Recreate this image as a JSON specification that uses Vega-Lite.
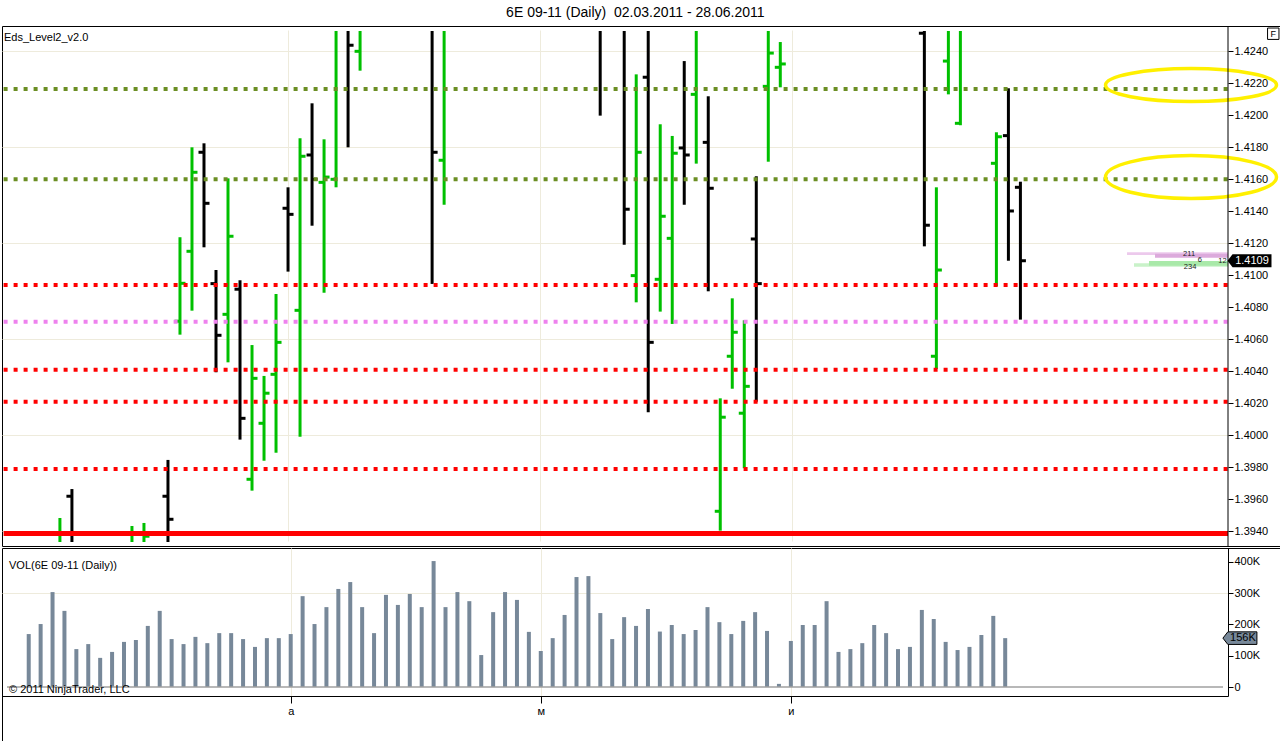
{
  "$schema": "https://vega.github.io/schema/vega-lite/v6.json",
  "background": "white",
  "padding": {"left": 0, "top": 6, "right": 0, "bottom": 0},
  "title": {"text": "6E 09-11 (Daily)\u00a0 02.03.2011 - 28.06.2011", "font": "Liberation Sans", "fontSize": 14, "fontWeight": "normal", "color": "black", "anchor": "middle", "offset": 5, "dx": -7},
  "spacing": 0,
  "config": {
    "font": "Liberation Sans",
    "view": {"stroke": "black", "strokeWidth": 1},
    "axis": {"labelFont": "Liberation Sans", "labelFontSize": 11, "labelColor": "black", "tickColor": "black", "domainColor": "black"}
  },
  "datasets": {
    "ohlc": [
      {"i": 0, "volume": 169000},
      {"i": 1, "volume": 201000},
      {"i": 2, "volume": 303000},
      {"i": 3, "volume": 243000, "open": 1.3912, "high": 1.39483, "low": 1.3905, "close": 1.3928},
      {"i": 4, "volume": 121000, "open": 1.39619, "high": 1.39664, "low": 1.3916, "close": 1.3924},
      {"i": 5, "volume": 137000},
      {"i": 6, "volume": 93000},
      {"i": 7, "volume": 112000},
      {"i": 8, "volume": 144000},
      {"i": 9, "volume": 150000, "open": 1.3914, "high": 1.39433, "low": 1.3908, "close": 1.3929},
      {"i": 10, "volume": 195000, "open": 1.3921, "high": 1.39452, "low": 1.3917, "close": 1.39369},
      {"i": 11, "volume": 243000},
      {"i": 12, "volume": 153000, "open": 1.39619, "high": 1.39846, "low": 1.3926, "close": 1.39475},
      {"i": 13, "volume": 137000, "open": 1.40713, "high": 1.41238, "low": 1.40629, "close": 1.4095},
      {"i": 14, "volume": 160000, "open": 1.4115, "high": 1.418, "low": 1.40779, "close": 1.41644},
      {"i": 15, "volume": 140000, "open": 1.41769, "high": 1.41825, "low": 1.41175, "close": 1.4145},
      {"i": 16, "volume": 172000, "open": 1.40948, "high": 1.41033, "low": 1.40394, "close": 1.40625},
      {"i": 17, "volume": 172000, "open": 1.40756, "high": 1.41606, "low": 1.40456, "close": 1.41244},
      {"i": 18, "volume": 153000, "open": 1.40913, "high": 1.40969, "low": 1.39973, "close": 1.40106},
      {"i": 19, "volume": 128000, "open": 1.39725, "high": 1.40564, "low": 1.39654, "close": 1.40356},
      {"i": 20, "volume": 156000, "open": 1.40075, "high": 1.40371, "low": 1.39841, "close": 1.40263},
      {"i": 21, "volume": 156000, "open": 1.40381, "high": 1.40883, "low": 1.39891, "close": 1.40581},
      {"i": 22, "volume": 169000, "open": 1.41419, "high": 1.4155, "low": 1.41023, "close": 1.41381},
      {"i": 23, "volume": 290000, "open": 1.40781, "high": 1.41856, "low": 1.39991, "close": 1.41744},
      {"i": 24, "volume": 201000, "open": 1.41752, "high": 1.42075, "low": 1.4131, "close": 1.416},
      {"i": 25, "volume": 255000, "open": 1.41581, "high": 1.4185, "low": 1.40891, "close": 1.41614},
      {"i": 26, "volume": 313000, "open": 1.416, "high": 1.4266, "low": 1.4155, "close": 1.4259},
      {"i": 27, "volume": 335000, "open": 1.4263, "high": 1.4271, "low": 1.418, "close": 1.42438},
      {"i": 28, "volume": 255000, "open": 1.424, "high": 1.4272, "low": 1.42279, "close": 1.4262},
      {"i": 29, "volume": 172000},
      {"i": 30, "volume": 294000},
      {"i": 31, "volume": 262000},
      {"i": 32, "volume": 297000},
      {"i": 33, "volume": 255000},
      {"i": 34, "volume": 402000, "open": 1.4266, "high": 1.4275, "low": 1.40946, "close": 1.41769},
      {"i": 35, "volume": 255000, "open": 1.41719, "high": 1.4268, "low": 1.41441, "close": 1.4259},
      {"i": 36, "volume": 303000},
      {"i": 37, "volume": 274000},
      {"i": 38, "volume": 102000},
      {"i": 39, "volume": 239000},
      {"i": 40, "volume": 303000},
      {"i": 41, "volume": 278000},
      {"i": 42, "volume": 176000},
      {"i": 43, "volume": 115000},
      {"i": 44, "volume": 156000},
      {"i": 45, "volume": 230000},
      {"i": 46, "volume": 351000},
      {"i": 47, "volume": 354000},
      {"i": 48, "volume": 236000, "open": 1.4288, "high": 1.4295, "low": 1.41998, "close": 1.4264},
      {"i": 49, "volume": 153000},
      {"i": 50, "volume": 223000, "open": 1.4276, "high": 1.4284, "low": 1.41191, "close": 1.41413},
      {"i": 51, "volume": 195000, "open": 1.40998, "high": 1.42256, "low": 1.40831, "close": 1.41769},
      {"i": 52, "volume": 249000, "open": 1.42238, "high": 1.4257, "low": 1.40144, "close": 1.40581},
      {"i": 53, "volume": 177000, "open": 1.40975, "high": 1.41944, "low": 1.40773, "close": 1.41369},
      {"i": 54, "volume": 198000, "open": 1.41231, "high": 1.41871, "low": 1.40696, "close": 1.41763},
      {"i": 55, "volume": 169000, "open": 1.41796, "high": 1.42339, "low": 1.41441, "close": 1.41752},
      {"i": 56, "volume": 182000, "open": 1.42131, "high": 1.4263, "low": 1.41698, "close": 1.4258},
      {"i": 57, "volume": 255000, "open": 1.41831, "high": 1.42119, "low": 1.409, "close": 1.41544},
      {"i": 58, "volume": 207000, "open": 1.39525, "high": 1.40231, "low": 1.39404, "close": 1.40113},
      {"i": 59, "volume": 169000, "open": 1.40494, "high": 1.40856, "low": 1.40291, "close": 1.40644},
      {"i": 60, "volume": 211000, "open": 1.40138, "high": 1.40719, "low": 1.39794, "close": 1.40306},
      {"i": 61, "volume": 239000, "open": 1.41227, "high": 1.41619, "low": 1.4021, "close": 1.40948},
      {"i": 62, "volume": 179000, "open": 1.42181, "high": 1.4261, "low": 1.4171, "close": 1.42389},
      {"i": 63, "volume": 10000, "open": 1.423, "high": 1.42458, "low": 1.42175, "close": 1.42321},
      {"i": 64, "volume": 147000},
      {"i": 65, "volume": 198000},
      {"i": 66, "volume": 198000},
      {"i": 67, "volume": 274000},
      {"i": 68, "volume": 112000},
      {"i": 69, "volume": 121000},
      {"i": 70, "volume": 140000},
      {"i": 71, "volume": 198000},
      {"i": 72, "volume": 172000},
      {"i": 73, "volume": 121000},
      {"i": 74, "volume": 128000},
      {"i": 75, "volume": 246000, "open": 1.42513, "high": 1.4256, "low": 1.41181, "close": 1.41313},
      {"i": 76, "volume": 217000, "open": 1.40494, "high": 1.4155, "low": 1.40414, "close": 1.41033},
      {"i": 77, "volume": 144000, "open": 1.42339, "high": 1.4264, "low": 1.42131, "close": 1.4259},
      {"i": 78, "volume": 118000, "open": 1.4195, "high": 1.4262, "low": 1.41938, "close": 1.4257},
      {"i": 79, "volume": 128000},
      {"i": 80, "volume": 166000},
      {"i": 81, "volume": 227000, "open": 1.417, "high": 1.41894, "low": 1.40931, "close": 1.41866},
      {"i": 82, "volume": 156000, "open": 1.41873, "high": 1.42169, "low": 1.41091, "close": 1.41402},
      {"i": 83, "open": 1.4155, "high": 1.41585, "low": 1.40723, "close": 1.41091}
    ],
    "levels": [
      {"price": 1.42165, "kind": "resistance"},
      {"price": 1.416, "kind": "resistance"},
      {"price": 1.4094, "kind": "support"},
      {"price": 1.4071, "kind": "pivot"},
      {"price": 1.4041, "kind": "support"},
      {"price": 1.4021, "kind": "support"},
      {"price": 1.3979, "kind": "support"},
      {"price": 1.39386, "kind": "floor"}
    ],
    "zones": [
      {"price": 1.42189, "zone": "upper"},
      {"price": 1.41614, "zone": "lower"}
    ],
    "depth": [
      {"tier": "ask1", "from": 91.88, "lo": 1.41127, "hi": 1.41144},
      {"tier": "ask2", "from": 94.21, "lo": 1.4111, "hi": 1.41135},
      {"tier": "bid1", "from": 92.46, "lo": 1.41054, "hi": 1.41075},
      {"tier": "bid2", "from": 93.71, "lo": 1.4106, "hi": 1.41089}
    ],
    "depthQty": [
      {"qty": "211", "at": 97.05, "price": 1.41136},
      {"qty": "6", "at": 97.95, "price": 1.41097},
      {"qty": "12", "at": 99.83, "price": 1.41089},
      {"qty": "234", "at": 97.13, "price": 1.41054}
    ]
  },
  "vconcat": [
    {
      "width": 1278,
      "height": 520,
      "resolve": {"axis": {"y": "independent"}},
      "layer": [
        {
          "data": {"name": "ohlc"},
          "transform": [{"filter": "isValid(datum.high)"}],
          "mark": {"type": "rule", "strokeWidth": 3},
          "encoding": {
            "x": {
              "field": "i",
              "type": "quantitative",
              "scale": {"domain": [-1.824, 100.29], "range": [0, 1226], "nice": false, "zero": false},
              "axis": {"orient": "bottom", "values": [22, 43, 64], "labels": false, "ticks": false, "domain": false, "grid": true, "gridColor": "#eeebdc", "title": null}
            },
            "y": {
              "field": "low",
              "type": "quantitative",
              "scale": {"domain": [1.39333, 1.42527], "range": [516, 5], "clamp": true, "nice": false, "zero": false},
              "axis": {
                "orient": "right",
                "offset": -52,
                "values": [1.394, 1.396, 1.398, 1.4, 1.402, 1.404, 1.406, 1.408, 1.41, 1.412, 1.414, 1.416, 1.418, 1.42, 1.422, 1.424],
                "format": ".4f",
                "tickSize": 5,
                "labelPadding": 1,
                "domain": false,
                "grid": false,
                "title": null
              }
            },
            "y2": {"field": "high"},
            "color": {"condition": {"test": "datum.close > datum.open", "value": "#00c000"}, "value": "black"}
          }
        },
        {
          "data": {"name": "ohlc"},
          "transform": [{"filter": "isValid(datum.open) && datum.open >= 1.39333 && datum.open <= 1.42527"}],
          "mark": {"type": "rule", "strokeWidth": 3, "xOffset": -5.5},
          "encoding": {
            "x": {"field": "i", "type": "quantitative"},
            "x2": {"field": "i"},
            "y": {
              "field": "open",
              "type": "quantitative",
              "axis": {"orient": "left", "values": [1.394, 1.4, 1.406, 1.412, 1.418, 1.424], "labels": false, "ticks": false, "domain": false, "grid": true, "gridColor": "#eeebdc", "title": null}
            },
            "color": {"condition": {"test": "datum.close > datum.open", "value": "#00c000"}, "value": "black"}
          }
        },
        {
          "data": {"name": "ohlc"},
          "transform": [{"filter": "isValid(datum.close) && datum.close >= 1.39333 && datum.close <= 1.42527"}],
          "mark": {"type": "rule", "strokeWidth": 3, "x2Offset": 5.5},
          "encoding": {
            "x": {"field": "i", "type": "quantitative"},
            "x2": {"field": "i"},
            "y": {"field": "close", "type": "quantitative", "axis": null},
            "color": {"condition": {"test": "datum.close > datum.open", "value": "#00c000"}, "value": "black"}
          }
        },
        {
          "data": {"name": "levels"},
          "transform": [{"filter": "datum.kind != 'floor'"}],
          "mark": {"type": "rule", "strokeWidth": 4, "strokeDash": [4, 6], "strokeCap": "butt"},
          "encoding": {
            "x": {"datum": -1.69},
            "x2": {"datum": 100.29},
            "y": {"field": "price", "type": "quantitative", "axis": null},
            "color": {"field": "kind", "type": "nominal", "scale": {"domain": ["resistance", "pivot", "support"], "range": ["#6b8e23", "#ee82ee", "#ff0000"]}, "legend": null}
          }
        },
        {
          "data": {"name": "levels"},
          "transform": [{"filter": "datum.kind == 'floor'"}],
          "mark": {"type": "rule", "strokeWidth": 5, "color": "#ff0000"},
          "encoding": {
            "x": {"datum": -1.69},
            "x2": {"datum": 100.29},
            "y": {"field": "price", "type": "quantitative", "axis": null}
          }
        },
        {
          "data": {"name": "depth"},
          "mark": {"type": "rect"},
          "encoding": {
            "x": {"field": "from", "type": "quantitative"},
            "x2": {"datum": 100.29},
            "y": {"field": "lo", "type": "quantitative", "axis": null},
            "y2": {"field": "hi"},
            "fill": {"field": "tier", "type": "nominal", "scale": {"domain": ["ask1", "ask2", "bid1", "bid2"], "range": ["#ecc9ec", "#dcaadc", "#c9f2c9", "#a9e9a9"]}, "legend": null}
          }
        },
        {
          "data": {"name": "depthQty"},
          "mark": {"type": "text", "fontSize": 7.5, "align": "center", "baseline": "middle", "color": "#222"},
          "encoding": {
            "x": {"field": "at", "type": "quantitative"},
            "y": {"field": "price", "type": "quantitative", "axis": null},
            "text": {"field": "qty"}
          }
        },
        {
          "data": {"name": "zones"},
          "mark": {"type": "point", "filled": false, "strokeWidth": 3.5, "color": "#fff000", "opacity": 1, "size": 29241},
          "encoding": {
            "x": {"datum": 97.21},
            "y": {"field": "price", "type": "quantitative", "axis": null},
            "shape": {
              "field": "zone",
              "type": "nominal",
              "scale": {
                "domain": ["upper", "lower"],
                "range": [
                  "M -1 0 C -1 -0.1066 -0.5523 -0.193 0 -0.193 C 0.5523 -0.193 1 -0.1066 1 0 C 1 0.1066 0.5523 0.193 0 0.193 C -0.5523 0.193 -1 0.1066 -1 0 Z",
                  "M -1 0 C -1 -0.1386 -0.5523 -0.251 0 -0.251 C 0.5523 -0.251 1 -0.1386 1 0 C 1 0.1386 0.5523 0.251 0 0.251 C -0.5523 0.251 -1 0.1386 -1 0 Z"
                ]
              },
              "legend": null
            }
          }
        },
        {
          "data": {"values": [{}]},
          "mark": {"type": "rule", "color": "black", "strokeWidth": 1},
          "encoding": {"x": {"datum": 100.29}}
        },
        {
          "data": {"name": "ohlc"},
          "transform": [{"filter": "datum.i == 83"}],
          "mark": {"type": "point", "filled": true, "color": "black", "opacity": 1, "size": 1936, "shape": "M -1 0 L -0.77 -0.3 L 1 -0.3 L 1 0.3 L -0.77 0.3 Z"},
          "encoding": {
            "x": {"datum": 102.08},
            "y": {"field": "close", "type": "quantitative", "axis": null}
          }
        },
        {
          "data": {"name": "ohlc"},
          "transform": [{"filter": "datum.i == 83"}],
          "mark": {"type": "text", "fontSize": 11, "color": "white", "align": "center", "baseline": "middle"},
          "encoding": {
            "x": {"datum": 102.29},
            "y": {"field": "close", "type": "quantitative", "axis": null},
            "text": {"field": "close", "format": ".4f"}
          }
        },
        {
          "data": {"values": [{}]},
          "mark": {"type": "point", "shape": "square", "size": 130, "filled": false, "color": "black", "strokeWidth": 1, "opacity": 1},
          "encoding": {"x": {"datum": 104.06}, "y": {"datum": 1.4251, "axis": null}}
        },
        {
          "data": {"values": [{}]},
          "mark": {"type": "text", "text": "F", "fontSize": 9, "align": "center", "baseline": "middle", "color": "black"},
          "encoding": {"x": {"datum": 104.06}, "y": {"datum": 1.4251, "axis": null}}
        },
        {
          "data": {"values": [{}]},
          "mark": {"type": "text", "text": "Eds_Level2_v2.0", "fontSize": 11, "align": "left", "baseline": "middle", "dx": 2, "color": "black"},
          "encoding": {"x": {"datum": -1.824}, "y": {"datum": 1.42483, "axis": null}}
        }
      ]
    },
    {
      "width": 1278,
      "height": 193,
      "resolve": {"axis": {"x": "independent", "y": "independent"}},
      "layer": [
        {
          "data": {"name": "ohlc"},
          "transform": [{"filter": "isValid(datum.volume)"}],
          "mark": {"type": "bar", "size": 4, "color": "#778899"},
          "encoding": {
            "x": {
              "field": "i",
              "type": "quantitative",
              "scale": {"domain": [-1.824, 100.29], "range": [0, 1226], "nice": false, "zero": false},
              "axis": {
                "orient": "bottom",
                "offset": -45,
                "values": [22, 43, 64],
                "labelExpr": "datum.value == 22 ? 'а' : datum.value == 43 ? 'м' : 'и'",
                "tickSize": 7,
                "labelPadding": 2,
                "domain": true,
                "grid": false,
                "title": null
              }
            },
            "y": {
              "field": "volume",
              "type": "quantitative",
              "scale": {"domain": [-28700, 443700], "range": [148, 0], "nice": false, "zero": false},
              "axis": {
                "orient": "right",
                "offset": -52,
                "values": [0, 100000, 200000, 300000, 400000],
                "labelExpr": "datum.value == 0 ? '0' : (datum.value / 1000) + 'K'",
                "tickSize": 5,
                "labelPadding": 1,
                "domain": true,
                "grid": false,
                "title": null
              }
            },
            "y2": {"datum": 0}
          }
        },
        {
          "data": {"values": [{}]},
          "mark": {"type": "rule", "color": "#a0a0a0", "strokeWidth": 1.5},
          "encoding": {
            "x": {"datum": -1.824, "axis": {"orient": "top", "values": [22, 43, 64], "labels": false, "ticks": false, "domain": false, "grid": true, "gridColor": "#eeebdc", "title": null}},
            "x2": {"datum": 100.29},
            "y": {"datum": 0, "axis": {"orient": "left", "values": [300000], "labels": false, "ticks": false, "domain": false, "grid": true, "gridColor": "#eeebdc", "title": null}}
          }
        },
        {
          "data": {"name": "ohlc"},
          "transform": [{"filter": "datum.i == 82"}],
          "mark": {"type": "point", "filled": true, "fill": "#778899", "stroke": "black", "strokeWidth": 1, "opacity": 1, "size": 1156, "shape": "M -1 0 L -0.71 -0.37 L 1 -0.37 L 1 0.37 L -0.71 0.37 Z"},
          "encoding": {
            "x": {"datum": 101.71, "axis": null},
            "y": {"field": "volume", "type": "quantitative", "axis": null}
          }
        },
        {
          "data": {"name": "ohlc"},
          "transform": [{"filter": "datum.i == 82"}, {"calculate": "format(datum.volume / 1000, 'd') + 'K'", "as": "tag"}],
          "mark": {"type": "text", "fontSize": 11, "color": "black", "align": "center", "baseline": "middle"},
          "encoding": {
            "x": {"datum": 101.96, "axis": null},
            "y": {"field": "volume", "type": "quantitative", "axis": null},
            "text": {"field": "tag"}
          }
        },
        {
          "data": {"values": [{}]},
          "mark": {"type": "text", "text": "VOL(6E 09-11 (Daily))", "fontSize": 11, "align": "left", "baseline": "middle", "dx": 2, "color": "black"},
          "encoding": {"x": {"datum": -1.824, "axis": null}, "y": {"datum": 386000, "axis": null}}
        },
        {
          "data": {"values": [{}]},
          "mark": {"type": "text", "text": "© 2011 NinjaTrader, LLC", "fontSize": 11, "align": "left", "baseline": "middle", "dx": 2, "color": "black"},
          "encoding": {"x": {"datum": -1.824, "axis": null}, "y": {"datum": -9600, "axis": null}}
        }
      ]
    }
  ]
}
